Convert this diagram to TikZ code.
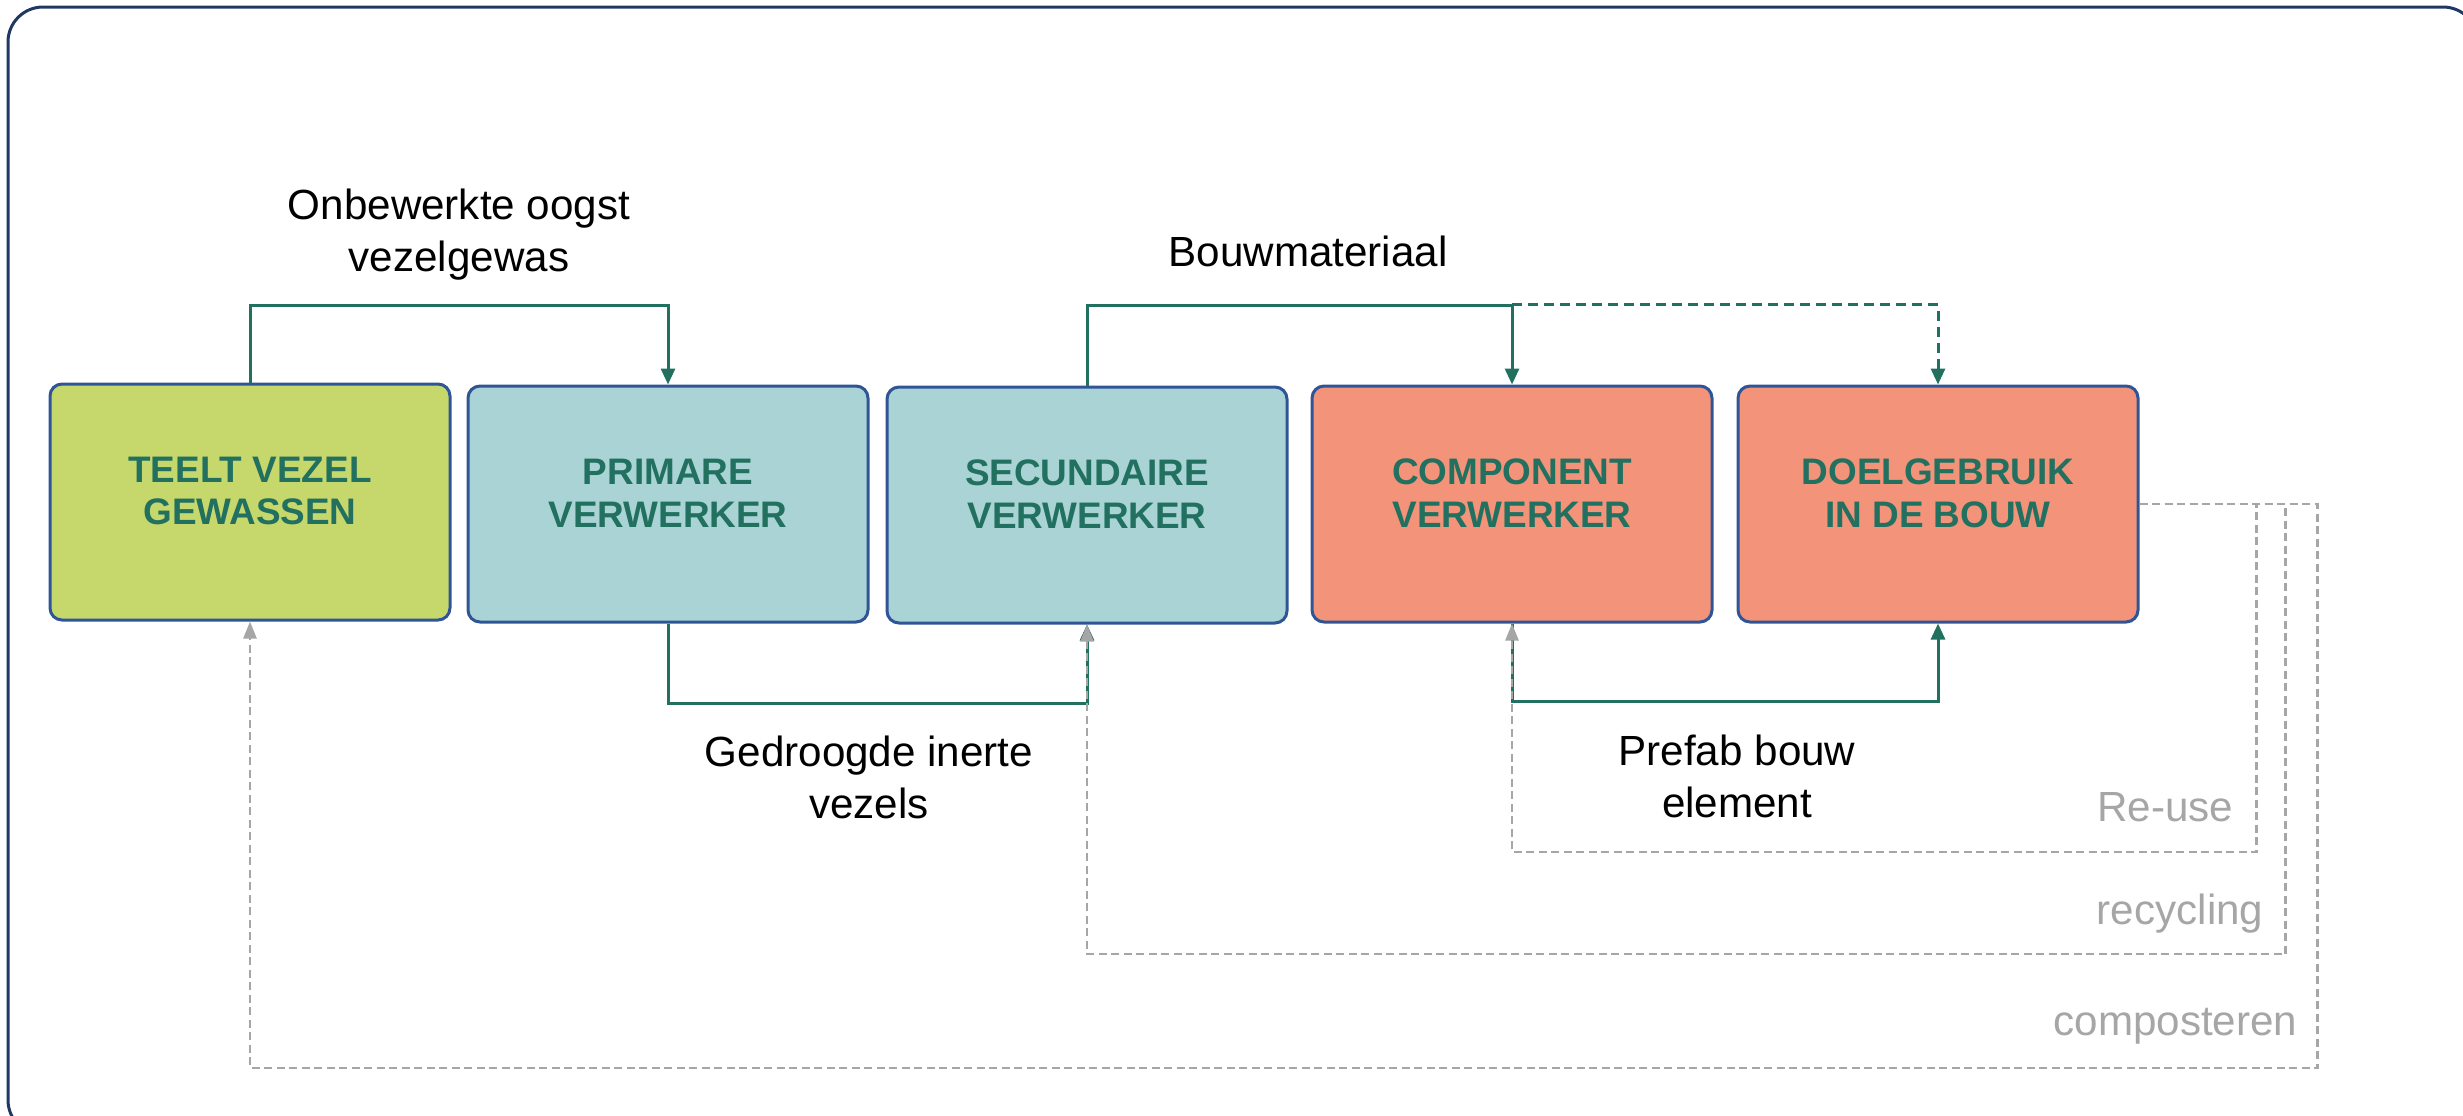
\documentclass[tikz,border=0pt]{standalone}
\usepackage{fontspec}
\setmainfont{Liberation Sans}
\usetikzlibrary{arrows.meta}

\definecolor{cropgreen}{HTML}{C6D86B}
\definecolor{procblue}{HTML}{AAD3D5}
\definecolor{buildred}{HTML}{F2937A}
\definecolor{boxedge}{HTML}{2F5597}
\definecolor{flowgreen}{HTML}{22705F}
\definecolor{loopgrey}{HTML}{A6A6A6}
\definecolor{framenavy}{HTML}{1F3864}

\tikzset{
  stage/.style={draw=boxedge, line width=0.3mm, rounded corners=1.2mm, minimum width=40mm, minimum height=23.6mm},
  stagetext/.style={align=center, text=flowgreen, yshift=1.1mm, font=\bfseries\fontsize{10.5}{12.2}\selectfont},
  flow/.style={draw=flowgreen, line width=0.3mm, -{Triangle[length=1.6mm,width=1.4mm]}},
  loop/.style={draw=loopgrey, line width=0.25mm, dash pattern=on 0.8mm off 0.45mm, -{Triangle[length=1.7mm,width=1.3mm]}},
  note/.style={align=center, font=\fontsize{12}{14.8}\selectfont},
  looptext/.style={anchor=base east, inner sep=0pt, text=loopgrey, font=\fontsize{12}{14.4}\selectfont}
}

\begin{document}
\begin{tikzpicture}[x=0.1mm, y=-0.1mm]

    \useasboundingbox (0,0) rectangle (2463,1115);
    \draw[framenavy, line width=0.3mm, rounded corners=3.5mm] (8,7) rectangle (2478,1135);

    \node[stage, fill=cropgreen, label={[stagetext]center:TEELT VEZEL\\GEWASSEN}] (teelt) at (250, 502) {};
    \node[stage, fill=procblue, label={[stagetext]center:PRIMARE\\VERWERKER}] (prim) at (668, 504) {};
    \node[stage, fill=procblue, label={[stagetext]center:SECUNDAIRE\\VERWERKER}] (sec) at (1087, 505) {};
    \node[stage, fill=buildred, label={[stagetext]center:COMPONENT\\VERWERKER}] (comp) at (1512, 504) {};
    \node[stage, fill=buildred, label={[stagetext]center:DOELGEBRUIK\\IN DE BOUW}] (doel) at (1938, 504) {};

    \node[note] (oogst) at (459, 235) {Onbewerkte oogst\\vezelgewas};
    \node[note] (bouw) at (1308, 251) {Bouwmateriaal};
    \node[note] (vezels) at (869, 777) {Gedroogde inerte\\vezels};
    \node[note] (prefab) at (1737, 776) {Prefab bouw\\element};

    \node[looptext] (reuse) at (2234, 821) {Re-use};
    \node[looptext] (recycle) at (2264, 924) {recycling};
    \node[looptext] (compost) at (2298, 1035) {composteren};

    % material flow
    \draw[flow] (teelt.north) -- ++(0,-77) -| (prim.north);
    \draw[flow] (prim.south) -- ++(0,80) -| (sec.south);
    \draw[flow] (sec.north) -- ++(0,-80) -| (comp.north);
    \draw[flow, dash pattern=on 1mm off 0.6mm] (comp.north) ++(0,-80) -| (doel.north);
    \draw[flow] (comp.south) -- ++(0,78) -| (doel.south);

    % end of life loops
    \draw[loop] (doel.east) -| ++(117,348) -| (comp.south);
    \draw[loop] (doel.east) -| ++(146,450) -| (sec.south);
    \draw[loop] (doel.east) -| ++(178,564) -| (teelt.south);

\end{tikzpicture}
\end{document}
